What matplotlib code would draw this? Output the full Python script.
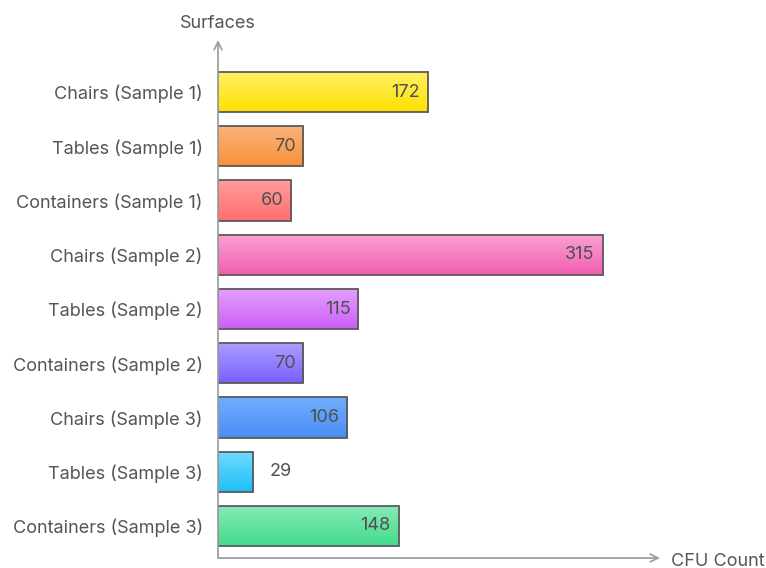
import numpy as np
import matplotlib
matplotlib.use('Agg')
import matplotlib.pyplot as plt
from matplotlib.colors import LinearSegmentedColormap
from matplotlib.patches import Rectangle

plt.rcParams['font.family'] = ['Inter', 'DejaVu Sans']

# Datos
surfaces = ['Chairs (Sample 1)', 'Tables (Sample 1)', 'Containers (Sample 1)',
            'Chairs (Sample 2)', 'Tables (Sample 2)', 'Containers (Sample 2)',
            'Chairs (Sample 3)', 'Tables (Sample 3)', 'Containers (Sample 3)']
cfu = [172, 70, 60, 315, 115, 70, 106, 29, 148]
top_colors = ['#FFF066', '#FDB37C', '#FF9C9C', '#F9A2D2', '#E6A0FF',
              '#ABA0FF', '#70AEFF', '#70DAFF', '#88EBB8']
bottom_colors = ['#FFE000', '#F8913A', '#FF6E6E', '#F35EB0', '#CB5EF6',
                 '#7A5FFF', '#4A8DF6', '#1EBFF6', '#44DB8C']

fig = plt.figure(figsize=(7.66, 5.68), dpi=100)
ax = fig.add_axes([218 / 766, 1 - 558 / 568, 442 / 766, 518 / 568])

y = np.arange(len(surfaces))
h = 0.74
bars = ax.barh(y, cfu, height=h, color='none', edgecolor='#5a5a5a', linewidth=1.3, zorder=3)

# Relleno con degradado
grad = np.linspace(0, 1, 100).reshape(-1, 1)
for i, (b, v) in enumerate(zip(bars, cfu)):
    cmap = LinearSegmentedColormap.from_list('g%d' % i, [top_colors[i], bottom_colors[i]])
    im = ax.imshow(grad, cmap=cmap, aspect='auto', origin='upper',
                   extent=(0, v, y[i] + h / 2, y[i] - h / 2), zorder=2)
    clip = Rectangle((0, y[i] - h / 2), v, h, transform=ax.transData)
    im.set_clip_path(clip)
    if v >= 50:
        ax.text(v - 6.5, y[i], str(v), ha='right', va='center', fontsize=13, color='#505050', zorder=4)
    else:
        ax.text(v + 13, y[i], str(v), ha='left', va='center', fontsize=13, color='#505050', zorder=4)

ax.set_xlim(0, 362)
ax.set_ylim(8.59, -0.96)
ax.set_yticks(y)
ax.set_yticklabels(surfaces, fontsize=13, color='#555555')
ax.tick_params(axis='y', length=0, pad=11)
ax.set_xticks([])
for s in ax.spines.values():
    s.set_visible(False)

# Ejes con flechas
arrow = dict(arrowstyle='->', color='#a0a0a0', lw=1.3, shrinkA=0, shrinkB=0, mutation_scale=14)
ax.annotate('', xy=(0, 1), xytext=(0, 0), xycoords='axes fraction', arrowprops=arrow)
ax.annotate('', xy=(1, 0), xytext=(0, 0), xycoords='axes fraction', arrowprops=arrow)
fig.text(218 / 766, 1 - 23 / 568, 'Surfaces', ha='center', va='center', fontsize=13, color='#555555')
fig.text(671 / 766, 1 - 561 / 568, 'CFU Count', ha='left', va='center', fontsize=13, color='#555555')

fig.savefig('out.png', dpi=100)
